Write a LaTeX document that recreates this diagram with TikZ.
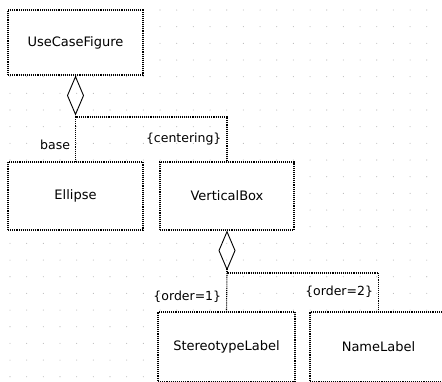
\documentclass[tikz,border=0pt]{standalone}
\usepackage{fontspec}
\setmainfont{DejaVu Sans}
\usetikzlibrary{arrows.meta}

\tikzset{
  classbox/.style={draw, densely dotted, line width=1.1pt, fill=white, minimum width=135pt, minimum height=68pt, inner sep=0pt, font=\fontsize{13}{15}\selectfont},
  conn/.style={densely dotted, line width=1.1pt},
  agg/.style={conn, {Diamond[open, length=40pt, width=17pt, line width=0.9pt]}-},
  role/.style={left, inner sep=5pt, font=\fontsize{12.5}{14}\selectfont}
}

\begin{document}
\begin{tikzpicture}[x=1pt,y=-1pt]
            \clip (0,0) rectangle (442,381);
            \fill[white] (0,0) rectangle (442,381);
            % grid dots
            \foreach \i in {0,...,26}
              \foreach \j in {0,...,22}
                \fill[gray!55] ({10+16.67*\i},{10+16.67*\j}) circle (0.55pt);
            % classes
            \node[classbox, minimum height=65pt] (ucf) at (75.5,42.5) {UseCaseFigure};
            \node[classbox] (ell) at (75.5,196) {Ellipse};
            \node[classbox, minimum width=134pt] (vbox) at (227,196) {VerticalBox};
            \node[classbox, minimum width=137pt, minimum height=70pt] (stl) at (226.5,347) {StereotypeLabel};
            \node[classbox, minimum width=137pt, minimum height=70pt] (nml) at (378.5,347) {NameLabel};
            % aggregations
            \coordinate (j1) at (ucf.south |- 0,117);
            \coordinate (j2) at (vbox.south |- 0,273);
            \draw[agg] (ucf.south) -- (j1) -| (vbox.north) node[pos=0.75, role] {\{centering\}};
            \draw[conn] (j1) -- (ell.north) node[pos=0.62, role] {base};
            \draw[agg] (vbox.south) -- (j2) -| (nml.north) node[pos=0.75, role] {\{order=2\}};
            \draw[conn] (j2) -- (stl.north) node[pos=0.62, role] {\{order=1\}};
        \end{tikzpicture}
\end{document}
